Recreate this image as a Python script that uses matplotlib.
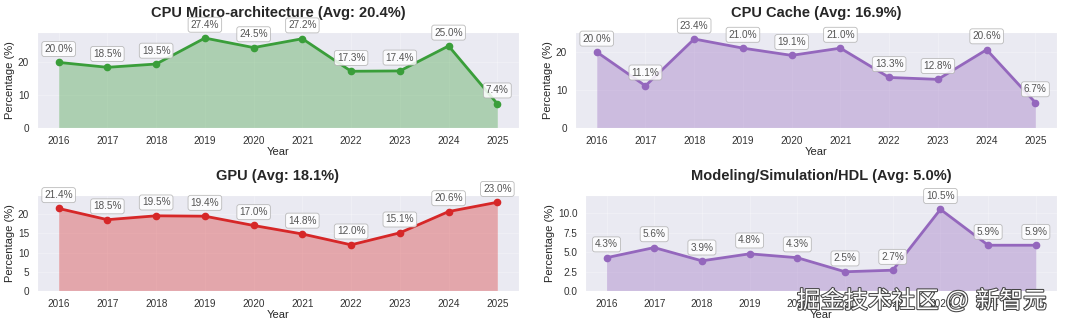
import matplotlib
matplotlib.use("Agg")
import matplotlib.pyplot as plt
import matplotlib.patheffects as pe
from matplotlib.ticker import MultipleLocator
import seaborn as sns

sns.set_style("darkgrid")
plt.rcParams['font.family'] = ['Liberation Sans', 'Noto Sans CJK SC', 'DejaVu Sans']

# Data
years = [2016, 2017, 2018, 2019, 2020, 2021, 2022, 2023, 2024, 2025]
cpu_micro = [20.0, 18.5, 19.5, 27.4, 24.5, 27.2, 17.3, 17.4, 25.0, 7.4]
cpu_cache = [20.0, 11.1, 23.4, 21.0, 19.1, 21.0, 13.3, 12.8, 20.6, 6.7]
gpu = [21.4, 18.5, 19.5, 19.4, 17.0, 14.8, 12.0, 15.1, 20.6, 23.0]
modeling = [4.3, 5.6, 3.9, 4.8, 4.3, 2.5, 2.7, 10.5, 5.9, 5.9]

titles = ["CPU Micro-architecture", "CPU Cache", "GPU", "Modeling/Simulation/HDL"]
series = [cpu_micro, cpu_cache, gpu, modeling]
colors = ["#3a9e3a", "#9467bd", "#d62728", "#9467bd"]
y_steps = [10, 10, 5, 2.5]

fig, axes = plt.subplots(2, 2, figsize=(10.8, 3.28), dpi=100)
fig.subplots_adjust(left=0.034, right=0.979, top=0.902, bottom=0.112,
                    wspace=0.115, hspace=0.7)
# wider tick labels on the last panel push it right a bit
pos = axes[1, 1].get_position()
axes[1, 1].set_position([0.5417, pos.y0, 0.979 - 0.5417, pos.height])

for ax, title, vals, color, step in zip(axes.flat, titles, series, colors, y_steps):
    avg = sum(vals) / len(vals)
    ax.grid(True, alpha=0.25)
    ax.plot(years, vals, marker='o', color=color, linewidth=2, markersize=4.5)
    ax.fill_between(years, vals, color=color, alpha=0.35, linewidth=0)
    for x, y in zip(years, vals):
        ax.annotate(f"{y:.1f}%", (x, y), xytext=(0, 6), textcoords='offset points',
                    ha='center', va='bottom', fontsize=7.2, color='#555555',
                    bbox=dict(boxstyle='round,pad=0.25', fc='white', ec='#b0b0b0',
                              lw=0.6, alpha=0.85))
    ax.set_title(f"{title} (Avg: {avg:.1f}%)", fontsize=10.5, fontweight='bold', pad=11)
    ax.set_xlabel("Year", fontsize=8, labelpad=1)
    ax.set_ylabel("Percentage (%)", fontsize=8, labelpad=2)
    ax.set_xticks(years)
    ax.yaxis.set_major_locator(MultipleLocator(step))
    ax.tick_params(labelsize=7.2, pad=2, labelcolor='#333333')
    ax.set_ylim(0, max(vals) + 1.8)

fig.text(0.738, 0.082, "掘金技术社区 @ 新智元", fontsize=17, color='white',
         ha='left', va='center',
         path_effects=[pe.withStroke(linewidth=1.5, foreground='#444444')])

fig.savefig("out.png", dpi=100)
